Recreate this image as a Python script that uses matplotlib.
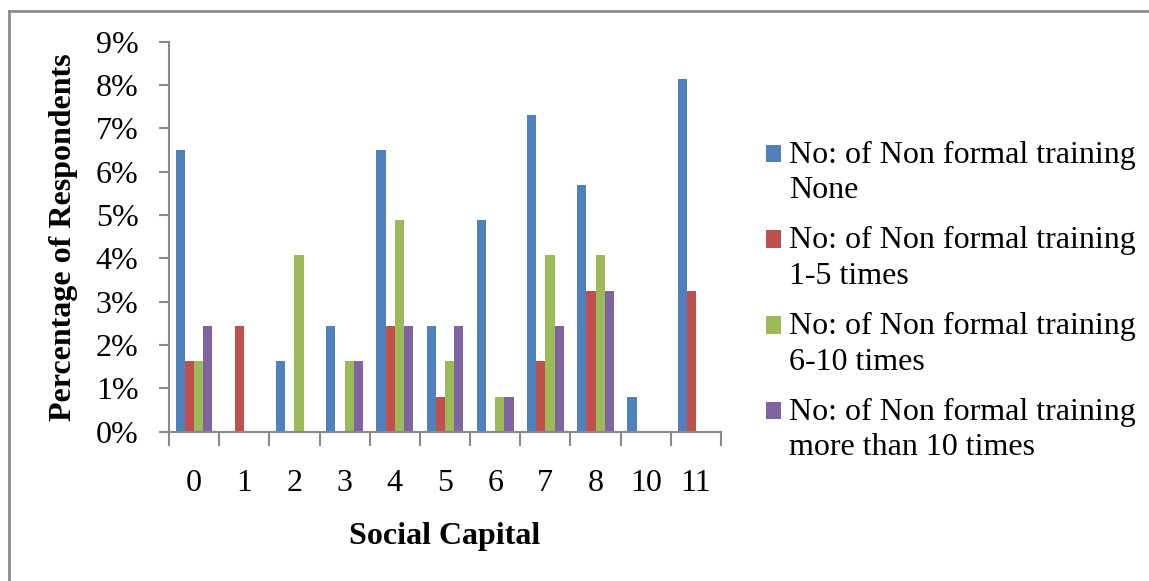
import numpy as np
import matplotlib.pyplot as plt
from matplotlib.patches import Rectangle
from matplotlib.legend_handler import HandlerPatch
from matplotlib.lines import Line2D

categories = ['0', '1', '2', '3', '4', '5', '6', '7', '8', '10', '11']
none_vals = [6.50, 0, 1.63, 2.44, 6.50, 2.44, 4.88, 7.32, 5.69, 0.81, 8.13]
t1_5_vals = [1.63, 2.44, 0, 0, 2.44, 0.81, 0, 1.63, 3.25, 0, 3.25]
t6_10_vals = [1.63, 0, 4.07, 1.63, 4.88, 1.63, 0.81, 4.07, 4.07, 0, 0]
t10p_vals = [2.44, 0, 0, 1.63, 2.44, 2.44, 0.81, 2.44, 3.25, 0, 0]
series_names = ['No: of Non formal training\nNone',
                'No: of Non formal training\n1-5 times',
                'No: of Non formal training\n6-10 times',
                'No: of Non formal training\nmore than 10 times']
colors = ['#4F81BD', '#C0504D', '#9BBB59', '#8064A2']

plt.rcParams['font.family'] = ['Liberation Serif', 'DejaVu Serif']
axis_col = '#898989'
fs = 23


class TopHandler(HandlerPatch):
    # put the legend square next to the first line of a two-line label
    def create_artists(self, legend, orig_handle, xdescent, ydescent,
                       width, height, fontsize, trans):
        p = Rectangle((-xdescent, -ydescent + 0.6 * fontsize), width, height,
                      facecolor=orig_handle.get_facecolor(), edgecolor='none',
                      transform=trans)
        return [p]


fig = plt.figure(figsize=(11.49, 5.81), dpi=100)
ax = fig.add_axes([0.1471, 0.257, 0.4804, 0.6712])

x = np.arange(len(categories))
width = 0.183
all_series = [none_vals, t1_5_vals, t6_10_vals, t10p_vals]
handles = []
for i, (vals, c) in enumerate(zip(all_series, colors)):
    offset = (i - 1.5) * width
    bars = ax.bar(x + offset, vals, width, color=c, edgecolor='none', label=series_names[i])
    handles.append(bars.patches[0])

ax.set_xlim(-0.5, len(categories) - 0.5)
ax.set_ylim(0, 9)
ax.set_yticks(np.arange(0, 10, 1))
ax.set_yticklabels([f'{v}%' for v in range(10)])

# category boundaries carry the ticks, labels sit at the centres
ax.set_xticks(np.arange(-0.5, len(categories), 1))
ax.set_xticklabels([])
ax.set_xticks(x, minor=True)
ax.set_xticklabels(categories, minor=True)
ax.tick_params(axis='x', which='major', length=10, width=1.5, color=axis_col, direction='out')
ax.tick_params(axis='x', which='minor', length=0, pad=27, labelsize=fs)
ax.tick_params(axis='y', length=7, width=1.5, color=axis_col, direction='out', pad=15, labelsize=fs)

for side in ['top', 'right']:
    ax.spines[side].set_visible(False)
for side in ['left', 'bottom']:
    ax.spines[side].set_color(axis_col)
    ax.spines[side].set_linewidth(1.5)

ax.set_xlabel('Social Capital', fontsize=fs, fontweight='bold', labelpad=17)
ax.set_ylabel('Percentage of Respondents', fontsize=fs, fontweight='bold', labelpad=13)

leg = fig.legend(handles=handles, labels=series_names, loc='upper left',
                 bbox_to_anchor=(0.667, 0.758), frameon=False, fontsize=fs,
                 handlelength=0.47, handleheight=0.47, handletextpad=0.23,
                 labelspacing=0.66, borderpad=0, borderaxespad=0,
                 handler_map={Rectangle: TopHandler()})
for t in leg.get_texts():
    t.set_linespacing(1.3)

# chart border (top and left edges visible in the source)
fig.add_artist(Line2D([9 / 1149, 1], [1 - 11 / 581, 1 - 11 / 581], color='#8c8c8c', lw=2))
fig.add_artist(Line2D([9 / 1149, 9 / 1149], [0, 1 - 11 / 581], color='#8c8c8c', lw=2))

fig.savefig('out.png', dpi=100)
